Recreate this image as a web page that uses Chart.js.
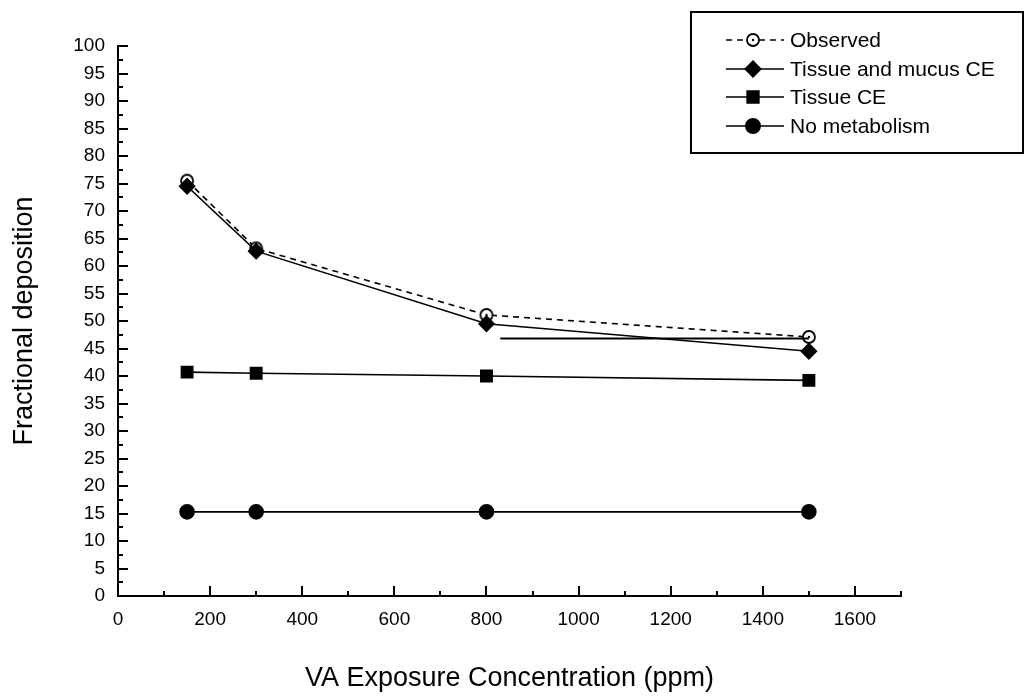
<!DOCTYPE html>
<html>
<head>
<meta charset="utf-8">
<title>Fractional deposition</title>
<script src="https://cdn.jsdelivr.net/npm/chart.js@4"></script>
<style>
  html, body { margin: 0; padding: 0; background: #fff; }
  #wrap { width: 1026px; height: 699px; }
</style>
</head>
<body>
<div id="wrap"><canvas id="depositionChart" width="1026" height="699"></canvas></div>
<script>
// exposure concentrations (ppm)
var concentrations = [150, 300, 800, 1500];

// fractional deposition per model
var observed = [75.5, 63.2, 51.1, 47.1];
var tissueMucusCE = [74.5, 62.7, 49.5, 44.5];
var tissueCE = [40.7, 40.5, 40.0, 39.2];
var noMetabolism = [15.3, 15.3, 15.3, 15.3];

// stray horizontal stroke in the original figure
var strayX = [830, 1500];
var strayY = [46.8, 46.8];

var seriesNames = ['Observed', 'Tissue and mucus CE', 'Tissue CE', 'No metabolism'];

var FONT = "'Liberation Sans', Arial, Helvetica, sans-serif";

function toPoints(xs, ys) {
    return xs.map(function (x, i) { return { x: x, y: ys[i] }; });
}

// open circle with a dot in the middle
function openCircle() {
    var c = document.createElement('canvas');
    c.width = 16; c.height = 16;
    var g = c.getContext('2d');
    g.fillStyle = '#fff';
    g.strokeStyle = '#000';
    g.lineWidth = 1.8;
    g.beginPath(); g.arc(8, 8, 6, 0, Math.PI * 2); g.fill(); g.stroke();
    g.fillStyle = '#000';
    g.beginPath(); g.arc(8, 8, 1.2, 0, Math.PI * 2); g.fill();
    return c;
}
var obsMarker = openCircle();

var insideTicks = {
    id: 'insideTicks',
    afterDraw: function (chart) {
        var ctx = chart.ctx;
        var xs = chart.scales.x, ys = chart.scales.y;
        var area = chart.chartArea;
        ctx.save();
        ctx.strokeStyle = '#000';
        ctx.lineWidth = 2;
        ctx.beginPath();
        for (var v = 0; v <= 100; v += 2.5) {
            var py = Math.round(ys.getPixelForValue(v));
            var len = (v % 5 === 0) ? 10 : 5;
            ctx.moveTo(area.left, py);
            ctx.lineTo(area.left + len, py);
        }
        for (var u = 100; u <= 1700; u += 100) {
            var px = Math.round(xs.getPixelForValue(u));
            var l2 = (u % 200 === 0) ? 10 : 5;
            ctx.moveTo(px, area.bottom);
            ctx.lineTo(px, area.bottom - l2);
        }
        ctx.stroke();
        ctx.restore();
    }
};

var boxLegend = {
    id: 'boxLegend',
    afterDraw: function (chart) {
        var ctx = chart.ctx;
        var left = 691, top = 12, right = 1023, bottom = 153;
        var rows = [40, 69, 97, 126];
        ctx.save();
        ctx.strokeStyle = '#000';
        ctx.lineWidth = 2;
        ctx.strokeRect(left, top, right - left, bottom - top);
        ctx.font = '21px ' + FONT;
        ctx.textBaseline = 'middle';
        ctx.fillStyle = '#000';
        for (var i = 0; i < 4; i++) {
            var ds = chart.data.datasets[i];
            var y = rows[i];
            ctx.save();
            ctx.lineWidth = 1.6;
            ctx.setLineDash(ds.borderDash || []);
            ctx.beginPath();
            ctx.moveTo(726, y);
            ctx.lineTo(784, y);
            ctx.stroke();
            ctx.restore();
            Chart.helpers.drawPoint(ctx, {
                pointStyle: ds.pointStyle,
                radius: ds.pointRadius,
                borderWidth: 1
            }, 753, y);
            ctx.fillStyle = '#000';
            ctx.fillText(seriesNames[i], 790, y + 1);
        }
        ctx.restore();
    }
};

var ctx = document.getElementById('depositionChart').getContext('2d');

var chart = new Chart(ctx, {
    type: 'line',
    data: {
        datasets: [{
            label: seriesNames[0],
            data: toPoints(concentrations, observed),
            borderColor: '#000',
            borderWidth: 1.6,
            borderDash: [6, 5],
            pointStyle: obsMarker,
            pointRadius: 6,
            order: 3
        }, {
            label: seriesNames[1],
            data: toPoints(concentrations, tissueMucusCE),
            borderColor: '#000',
            backgroundColor: '#000',
            borderWidth: 1.6,
            pointStyle: 'rectRot',
            pointRadius: 7.5,
            order: 1
        }, {
            label: seriesNames[2],
            data: toPoints(concentrations, tissueCE),
            borderColor: '#000',
            backgroundColor: '#000',
            borderWidth: 1.6,
            pointStyle: 'rect',
            pointRadius: 8,
            order: 1
        }, {
            label: seriesNames[3],
            data: toPoints(concentrations, noMetabolism),
            borderColor: '#000',
            backgroundColor: '#000',
            borderWidth: 1.6,
            pointStyle: 'circle',
            pointRadius: 7,
            order: 1
        }, {
            label: 'stray',
            data: toPoints(strayX, strayY),
            borderColor: '#000',
            borderWidth: 2,
            pointRadius: 0,
            order: 2
        }]
    },
    options: {
        responsive: false,
        animation: false,
        layout: { padding: { top: 46, right: 125, left: 0, bottom: 0 } },
        elements: { line: { tension: 0 } },
        plugins: {
            legend: { display: false },
            tooltip: { enabled: false }
        },
        scales: {
            x: {
                type: 'linear',
                min: 0,
                max: 1700,
                grid: { display: false, drawTicks: false },
                border: { display: true, color: '#000', width: 2 },
                ticks: {
                    stepSize: 100,
                    padding: 12,
                    color: '#000',
                    font: { family: FONT, size: 19 },
                    maxRotation: 0,
                    autoSkip: false,
                    callback: function (v) { return v % 200 === 0 ? String(v) : ''; }
                },
                title: {
                    display: true,
                    text: 'VA Exposure Concentration (ppm)',
                    color: '#000',
                    font: { family: FONT, size: 27 },
                    padding: { top: 4, bottom: 4 }
                },
                afterFit: function (scale) { scale.height = 103; }
            },
            y: {
                min: 0,
                max: 100,
                grid: { display: false, drawTicks: false },
                border: { display: true, color: '#000', width: 2 },
                ticks: {
                    stepSize: 5,
                    padding: 13,
                    color: '#000',
                    autoSkip: false,
                    font: { family: FONT, size: 19 }
                },
                title: {
                    display: true,
                    text: 'Fractional deposition',
                    color: '#000',
                    font: { family: FONT, size: 27 },
                    padding: { top: 8, bottom: 4 }
                },
                afterFit: function (scale) { scale.width = 118; }
            }
        }
    },
    plugins: [insideTicks, boxLegend]
});
</script>
</body>
</html>
